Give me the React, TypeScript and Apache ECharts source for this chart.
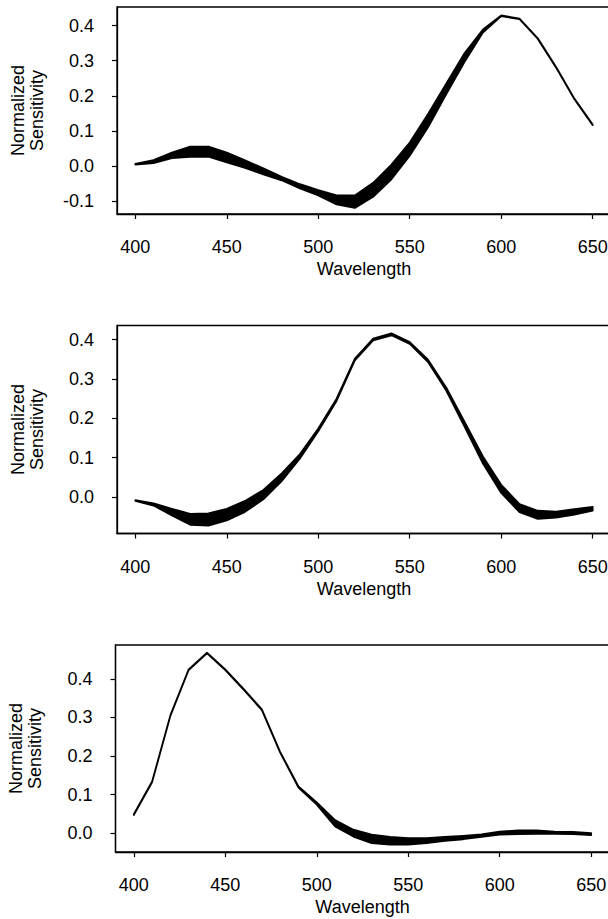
import React, { useEffect, useRef } from 'react';
import * as echarts from 'echarts';

const wavelengths = [400, 410, 420, 430, 440, 450, 460, 470, 480, 490, 500, 510, 520, 530, 540, 550, 560, 570, 580, 590, 600, 610, 620, 630, 640, 650];
const xTicks = [400, 450, 500, 550, 600, 650];

// Panel 1 (long-wave)
const upper1 = [0.006, 0.017, 0.038, 0.055, 0.055, 0.038, 0.016, -0.007, -0.031, -0.052, -0.069, -0.084, -0.084, -0.048, 0.004, 0.067, 0.148, 0.235, 0.322, 0.389, 0.429, 0.420, 0.364, 0.282, 0.192, 0.118];
const lower1 = [0.004, 0.008, 0.022, 0.026, 0.026, 0.010, -0.006, -0.024, -0.041, -0.064, -0.084, -0.110, -0.120, -0.088, -0.038, 0.029, 0.110, 0.205, 0.297, 0.380, 0.427, 0.418, 0.362, 0.280, 0.190, 0.116];
const yTicks1 = [-0.1, 0.0, 0.1, 0.2, 0.3, 0.4];

// Panel 2 (middle-wave)
const upper2 = [-0.008, -0.016, -0.030, -0.043, -0.042, -0.030, -0.010, 0.018, 0.060, 0.109, 0.174, 0.250, 0.352, 0.403, 0.416, 0.394, 0.349, 0.278, 0.191, 0.103, 0.031, -0.018, -0.035, -0.037, -0.031, -0.025];
const lower2 = [-0.010, -0.022, -0.047, -0.071, -0.073, -0.060, -0.038, -0.006, 0.040, 0.098, 0.167, 0.244, 0.347, 0.398, 0.411, 0.389, 0.343, 0.270, 0.178, 0.085, 0.010, -0.039, -0.056, -0.053, -0.045, -0.035];
const yTicks2 = [0.0, 0.1, 0.2, 0.3, 0.4];

// Panel 3 (short-wave)
const upper3 = [0.049, 0.134, 0.306, 0.425, 0.468, 0.425, 0.374, 0.321, 0.211, 0.121, 0.080, 0.034, 0.009, -0.004, -0.010, -0.013, -0.013, -0.010, -0.007, -0.003, 0.004, 0.007, 0.007, 0.004, 0.003, 0.000];
const lower3 = [0.047, 0.132, 0.304, 0.423, 0.466, 0.423, 0.372, 0.319, 0.209, 0.118, 0.074, 0.017, -0.009, -0.026, -0.030, -0.030, -0.026, -0.020, -0.016, -0.010, -0.004, -0.003, -0.002, -0.002, -0.003, -0.005];
const yTicks3 = [0.0, 0.1, 0.2, 0.3, 0.4];

const yMins = [-0.137, -0.093, -0.049];
const yMaxs = [0.453, 0.436, 0.488];
const xMin = 390;
const xMax = 660;

const FONT = "'Liberation Sans', Arial, Helvetica, sans-serif";

export default function App() {
  const ref = useRef<HTMLDivElement>(null);

  useEffect(() => {
    if (!ref.current) return;
    const chart = echarts.init(ref.current, null, { renderer: 'svg' });

    const uppers = [upper1, upper2, upper3];
    const lowers = [lower1, lower2, lower3];
    const yTicks = [yTicks1, yTicks2, yTicks3];
    const gridLayout = [
      { top: 7, height: 207, left: 117 },
      { top: 325.5, height: 208, left: 117 },
      { top: 645, height: 207, left: 115.5 },
    ];

    const grids = gridLayout.map((g) => ({
      left: g.left,
      top: g.top,
      width: 494,
      height: g.height,
      show: true,
      borderColor: '#000',
      borderWidth: 1.3,
      backgroundColor: 'transparent',
      containLabel: false,
      outerBoundsMode: 'none',
    }));

    const textBase = { color: '#000', fontFamily: FONT, fontSize: 18 };

    const xAxes = gridLayout.map((_, i) => ({
      type: 'value',
      gridIndex: i,
      min: xMin,
      max: xMax,
      name: 'Wavelength',
      nameLocation: 'middle',
      nameGap: 46,
      nameTextStyle: { ...textBase },
      axisLine: { show: true, onZero: false, lineStyle: { color: '#000', width: 1.3 } },
      axisTick: { show: true, length: 5, lineStyle: { color: '#000', width: 1.2 }, customValues: xTicks },
      axisLabel: { ...textBase, margin: 24, customValues: xTicks },
      splitLine: { show: false },
    }));

    const yAxes = gridLayout.map((_, i) => ({
      type: 'value',
      gridIndex: i,
      min: yMins[i],
      max: yMaxs[i],
      name: 'Normalized\nSensitivity',
      nameLocation: 'middle',
      nameGap: 71,
      nameRotate: 90,
      nameTextStyle: { ...textBase, lineHeight: 19, align: 'center' },
      axisLine: { show: true, onZero: false, lineStyle: { color: '#000', width: 1.3 } },
      axisTick: { show: true, length: 5, lineStyle: { color: '#000', width: 1.2 }, customValues: yTicks[i] },
      axisLabel: {
        ...textBase,
        margin: 23,
        customValues: yTicks[i],
        formatter: (v: number) => v.toFixed(1),
      },
      splitLine: { show: false },
    }));

    const series: any[] = [];
    for (let i = 0; i < 3; i++) {
      const lower = lowers[i];
      const upper = uppers[i];
      series.push({
        type: 'custom',
        xAxisIndex: i,
        yAxisIndex: i,
        coordinateSystem: 'cartesian2d',
        data: [[wavelengths[0], lower[0]]],
        encode: { x: 0, y: 1 },
        clip: true,
        renderItem: (params: any, api: any) => {
          const top = wavelengths.map((w, j) => api.coord([w, upper[j]]));
          const bottom = wavelengths.map((w, j) => api.coord([w, lower[j]])).reverse();
          return {
            type: 'polygon',
            shape: { points: top.concat(bottom) },
            style: {
              fill: '#000',
              stroke: '#000',
              lineWidth: 1.7,
              lineJoin: 'round',
            },
          };
        },
        z: 3,
      });
    }

    chart.setOption({
      animation: false,
      backgroundColor: '#fff',
      textStyle: { fontFamily: FONT, color: '#000' },
      grid: grids,
      xAxis: xAxes,
      yAxis: yAxes,
      series,
    });

    return () => {
      chart.dispose();
    };
  }, []);

  return (
    <div
      style={{
        position: 'fixed',
        left: 0,
        top: 0,
        width: 608,
        height: 919,
        overflow: 'hidden',
        background: '#fff',
      }}
    >
      <div ref={ref} style={{ width: 620, height: 919 }} />
    </div>
  );
}
